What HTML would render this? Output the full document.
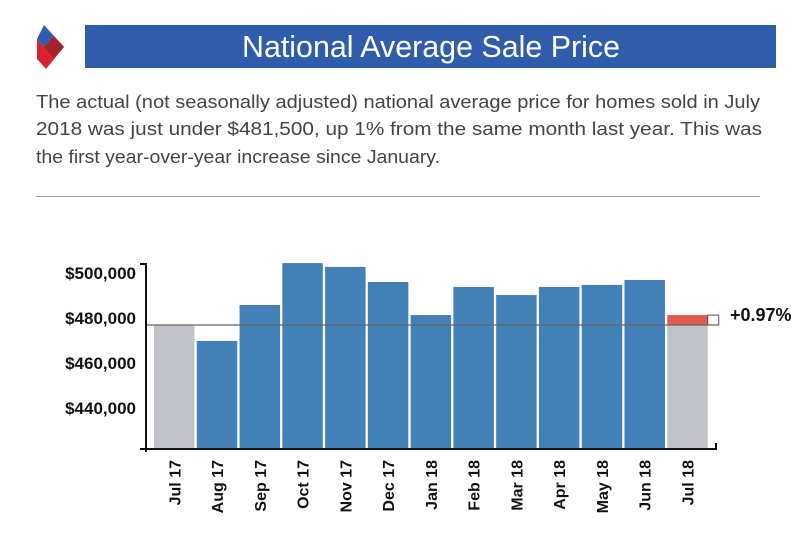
<!DOCTYPE html>
<html><head><meta charset="utf-8"><style>
body{margin:0;width:800px;height:542px;background:#fff;overflow:hidden;font-family:"Liberation Sans",sans-serif;position:relative}
#title-bar{position:absolute;left:85px;top:25px;width:691px;height:43px;background:#2f5dab}
#title-text{position:absolute;left:0;top:0;color:#fff;font-size:31px;line-height:43px;white-space:nowrap;transform-origin:0 0}
.dl{position:absolute;left:36px;font-size:18px;color:#444;white-space:nowrap;transform-origin:0 0}
#divider{position:absolute;left:36px;top:196px;width:724px;height:1px;background:#999}
</style></head><body>
<svg style="position:absolute;left:34px;top:24px" width="34" height="46">
<polygon points="10,1 20,12 10,23 3,15" fill="#2f5dab"/>
<polygon points="3,15 10,23 20,12 30,23 12,45 3,35" fill="#d5242f"/>
<polygon points="10,23 20,12 30,23 20,34" fill="#a4212e"/>
</svg>
<div id="title-bar"><span id="title-text">National Average Sale Price</span></div>
<div class="dl" id="d1" style="top:92px">The actual (not seasonally adjusted) national average price for homes sold in July</div>
<div class="dl" id="d2" style="top:119px">2018 was just under $481,500, up 1% from the same month last year. This was</div>
<div class="dl" id="d3" style="top:147px">the first year-over-year increase since January.</div>
<div id="divider"></div>
<svg id="chart" style="position:absolute;left:0;top:0" width="800" height="542"></svg>
<script>
const categories=["Jul 17","Aug 17","Sep 17","Oct 17","Nov 17","Dec 17","Jan 18","Feb 18","Mar 18","Apr 18","May 18","Jun 18","Jul 18"];
const values=[476900,469800,485800,504400,502700,496000,481300,493800,490200,493800,494700,496900,481300];
const yTicks=[440000,460000,480000,500000];
const yTickLabels=["$440,000","$460,000","$480,000","$500,000"];
const changeLabel="+0.97%";
function fit(id,w){const e=document.getElementById(id);const s=w/e.getBoundingClientRect().width;e.style.transform='scaleX('+s+')';}
fit('d1',724);fit('d2',726);fit('d3',404);
const tt=document.getElementById('title-text');fit('title-text',378);tt.style.left=(242-85)+'px';
const NS="http://www.w3.org/2000/svg";
const svg=document.getElementById('chart');
const x0=153,pitch=42.77,bw=40.5,baseY=449;
function y(v){return 273-(v-500000)*2.25/1000;}
function xc(i){return x0+i*pitch;}
function mk(t,a){const e=document.createElementNS(NS,t);for(const k in a)e.setAttribute(k,a[k]);svg.appendChild(e);return e;}
const n=values.length,base=values[0];
values.forEach((v,i)=>{
  const grey=(i===0||i===n-1);
  const top=(i===n-1)?y(Math.min(v,base)):y(v);
  const r=mk('rect',{x:xc(i)+1,y:top,width:bw,height:baseY-top,fill:grey?'#bfc3c7':'#4480b8'});
  
  
  const t=mk('text',{x:0,y:0,transform:`translate(${xc(i)+bw/2+7},460) rotate(-90)`,'text-anchor':'end','font-size':'16','font-weight':'bold',fill:'#111'});
  t.textContent=categories[i];
  
  
});
const last=values[n-1];
const inc=mk('rect',{x:xc(n-1)+1,y:y(last),width:bw,height:y(base)-y(last),fill:'#e05a4e'});


const box=mk('rect',{x:xc(n-1)+1+bw,y:y(last),width:11,height:y(base)-y(last),fill:'#fff',stroke:'#555','stroke-width':1});


const ref=mk('line',{x1:146,x2:719,y1:y(base),y2:y(base),stroke:'#666','stroke-width':1.2});


const cl=mk('text',{x:730,y:y(last)+6,'font-size':'18','font-weight':'bold',fill:'#111'});
cl.textContent=changeLabel;


yTicks.forEach((v,i)=>{
  const t=mk('text',{x:136,y:y(v)+6,'text-anchor':'end','font-size':'17','font-weight':'bold',fill:'#111'});
  t.textContent=yTickLabels[i];
  
  
});
const ya=mk('path',{d:'M140,264 H146 V452',stroke:'#111','stroke-width':2,fill:'none'});


const xa=mk('path',{d:'M140,449 H716 V443',stroke:'#111','stroke-width':2,fill:'none'});


</script>
</body></html>
